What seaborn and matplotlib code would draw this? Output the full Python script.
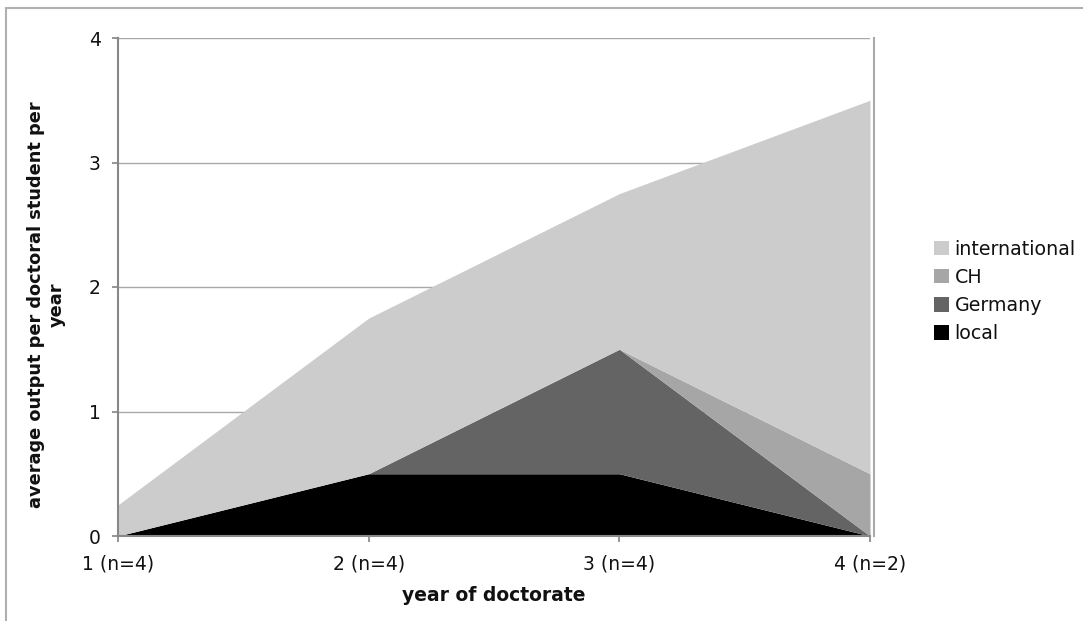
import matplotlib
matplotlib.use("Agg")
import matplotlib.pyplot as plt
from matplotlib.patches import Patch
from matplotlib.lines import Line2D
import seaborn as sns
import pandas as pd
import numpy as np

categories = ["1 (n=4)", "2 (n=4)", "3 (n=4)", "4 (n=2)"]
local = [0, 0.5, 0.5, 0]
germany = [0, 0, 1.0, 0]
ch = [0, 0, 0, 0.5]
international = [0.25, 1.25, 1.25, 3.0]
series_names = ["local", "Germany", "CH", "international"]
colors = ["#000000", "#646464", "#a6a6a6", "#cccccc"]

df = pd.DataFrame({"local": local, "Germany": germany, "CH": ch,
                   "international": international}, index=categories)

sns.set_theme(style="white")
plt.rcParams['font.family'] = ['DejaVu Sans']
plt.rcParams['text.color'] = '#111111'
plt.rcParams['axes.labelcolor'] = '#111111'

fig = plt.figure(figsize=(10.83, 6.21), dpi=100)
ax = fig.add_axes([118/1083, 1-536/621, (870-118)/1083, (536-38)/621])

x = np.arange(len(categories))
ax.stackplot(x, *[df[s].values for s in series_names], colors=colors,
             linewidth=0, zorder=2)

ax.set_xlim(0, 3)
ax.set_ylim(0, 4)
ax.set_yticks([0, 1, 2, 3, 4])
ax.set_xticks(x)
ax.set_xticklabels(categories)
for yv in [1, 2, 3, 4]:
    ax.axhline(yv, color="#a8a8a8", lw=1, zorder=1)

ax.tick_params(axis="both", which="both", length=4.3, color="#888888",
               labelsize=13.5, direction="out", bottom=True, left=True,
               labelcolor="#111111")
ax.tick_params(axis="x", pad=9)
ax.tick_params(axis="y", pad=8)
for s in ["left", "bottom"]:
    ax.spines[s].set_color("#888888")
    ax.spines[s].set_linewidth(1.5)
ax.spines["top"].set_visible(False)
ax.spines["right"].set_color("#aaaaaa")
ax.spines["right"].set_linewidth(1.5)
ax.spines["right"].set_position(("outward", 3))

ax.set_xlabel("year of doctorate", fontsize=13.5, fontweight="bold", labelpad=9)
ax.set_ylabel("average output per doctoral student per\nyear", fontsize=12.8,
              fontweight="bold")
ax.yaxis.set_label_coords(-52/752, 0.465)

handles = [Patch(facecolor=c, edgecolor="none", label=n)
           for n, c in zip(series_names[::-1], colors[::-1])]
leg = fig.legend(handles=handles, loc="upper left",
                 bbox_to_anchor=(926/1083, 1-232/621), frameon=False,
                 fontsize=13.7, handlelength=0.8, handleheight=0.8,
                 handletextpad=0.3, labelspacing=0.48, borderaxespad=0)

# outer frame lines (top and left)
fig.add_artist(Line2D([6/1083, 1], [1-8/621, 1-8/621], color="#b0b0b0", lw=1.5,
                      transform=fig.transFigure))
fig.add_artist(Line2D([6/1083, 6/1083], [0, 1-8/621], color="#b0b0b0", lw=1.5,
                      transform=fig.transFigure))

fig.savefig("out.png", dpi=100)
